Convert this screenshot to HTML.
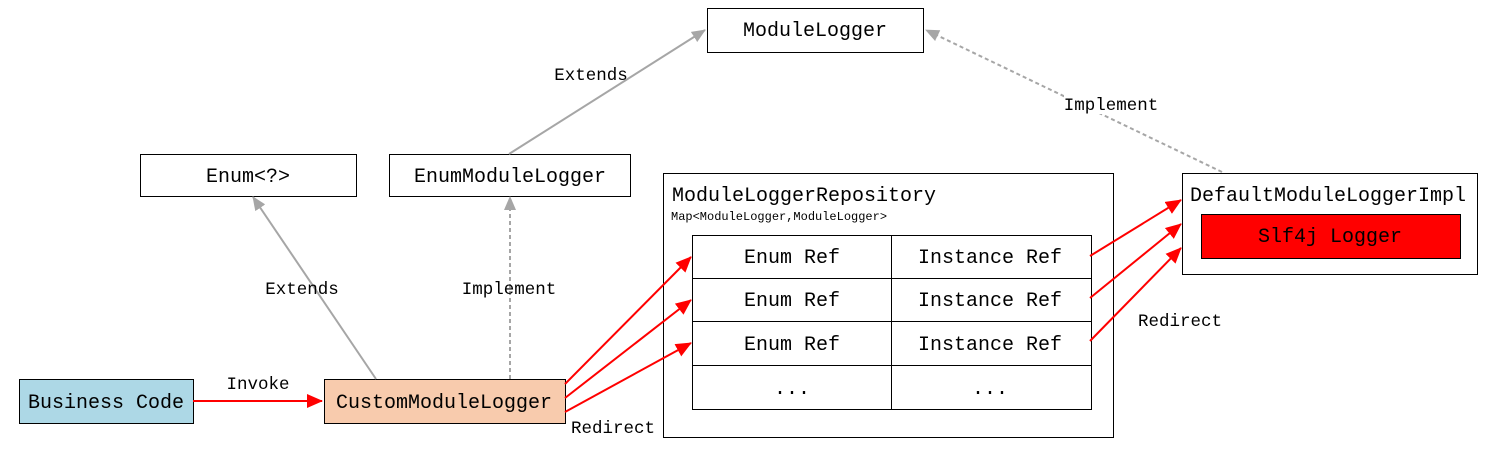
<!DOCTYPE html>
<html><head><meta charset="utf-8"><style>
body{margin:0;background:#fff;}
svg text{font-family:"Liberation Mono",monospace;font-size:20px;fill:#000;}
svg .l text{font-size:17.5px;}
svg text.s{font-size:12px;}
</style></head><body>
<svg width="1491" height="452" viewBox="0 0 1491 452" xmlns="http://www.w3.org/2000/svg">
<defs>
<marker id="rb" markerWidth="16" markerHeight="14" refX="15" refY="7" orient="auto" markerUnits="userSpaceOnUse"><path d="M0,0 L16,7 L0,14 z" fill="#f00"/></marker>
<marker id="g" markerWidth="14" markerHeight="12" refX="13" refY="6" orient="auto" markerUnits="userSpaceOnUse"><path d="M0,0 L14,6 L0,12 z" fill="#a6a6a6"/></marker>
</defs>
<g stroke="#000" stroke-width="1" fill="#fff">
<rect x="707.5" y="8.5" width="216" height="44"/>
<rect x="140.5" y="154.5" width="216" height="42"/>
<rect x="389.5" y="154.5" width="241" height="42"/>
<rect x="663.5" y="173.5" width="450" height="264"/>
<rect x="692.5" y="235.5" width="399" height="174"/>
<line x1="891.5" y1="235" x2="891.5" y2="410"/>
<line x1="692" y1="278.5" x2="1092" y2="278.5"/>
<line x1="692" y1="321.5" x2="1092" y2="321.5"/>
<line x1="692" y1="365.5" x2="1092" y2="365.5"/>
<rect x="1182.5" y="173.5" width="295" height="101"/>
<rect x="1201.5" y="214.5" width="259" height="44" fill="#f00"/>
<rect x="19.5" y="379.5" width="174" height="44" fill="#add8e6"/>
<rect x="324.5" y="379.5" width="241" height="44" fill="#f8cbad"/>
</g>
<g stroke="#a6a6a6" stroke-width="2" fill="none">
<line x1="509" y1="154" x2="705" y2="30" marker-end="url(#g)"/>
<line x1="1222" y1="172" x2="926" y2="30" stroke-dasharray="4,3" marker-end="url(#g)"/>
<line x1="376" y1="379" x2="253" y2="197" marker-end="url(#g)"/>
<line x1="510" y1="379" x2="510" y2="197" stroke-dasharray="4,3" marker-end="url(#g)"/>
</g>
<g stroke="#f00" stroke-width="2" fill="none">
<line x1="193" y1="401" x2="322" y2="401" marker-end="url(#rb)"/>
<line x1="565" y1="384" x2="691" y2="257" marker-end="url(#rb)"/>
<line x1="565" y1="398" x2="691" y2="300" marker-end="url(#rb)"/>
<line x1="565" y1="412" x2="691" y2="343" marker-end="url(#rb)"/>
<line x1="1090" y1="256" x2="1181" y2="200" marker-end="url(#rb)"/>
<line x1="1090" y1="298" x2="1181" y2="224" marker-end="url(#rb)"/>
<line x1="1090" y1="341" x2="1181" y2="248" marker-end="url(#rb)"/>
</g>
<rect x="1064" y="94" width="94" height="20" fill="#fff"/>
<g text-anchor="middle">
<text x="815" y="36">ModuleLogger</text>
<text x="248" y="182">Enum&lt;?&gt;</text>
<text x="510" y="182">EnumModuleLogger</text>
<text x="792" y="263">Enum Ref</text>
<text x="990" y="263">Instance Ref</text>
<text x="792" y="306">Enum Ref</text>
<text x="990" y="306">Instance Ref</text>
<text x="792" y="350">Enum Ref</text>
<text x="990" y="350">Instance Ref</text>
<text x="792" y="394">...</text>
<text x="990" y="394">...</text>
<text x="1330" y="242">Slf4j Logger</text>
<text x="106" y="408">Business Code</text>
<text x="444" y="408">CustomModuleLogger</text>
</g>
<text x="672" y="201">ModuleLoggerRepository</text>
<text class="s" x="671" y="220">Map&lt;ModuleLogger,ModuleLogger&gt;</text>
<text x="1190" y="201">DefaultModuleLoggerImpl</text>
<g class="l" text-anchor="middle">
<text x="591" y="80">Extends</text>
<text x="1111" y="110">Implement</text>
<text x="302" y="294">Extends</text>
<text x="509" y="294">Implement</text>
<text x="258" y="389">Invoke</text>
<text x="613" y="433">Redirect</text>
<text x="1180" y="326">Redirect</text>
</g>
</svg>
</body></html>
